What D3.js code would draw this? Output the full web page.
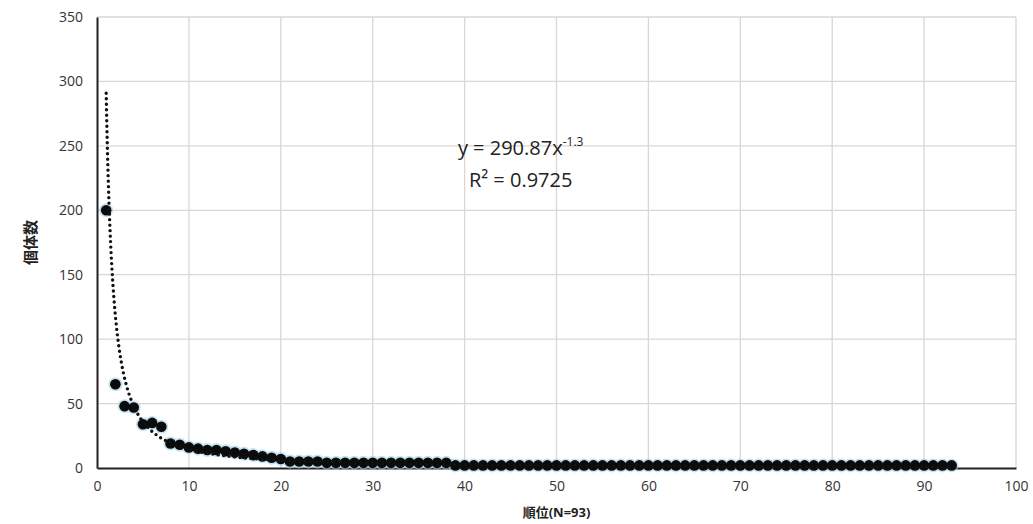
<!DOCTYPE html>
<html>
<head>
<meta charset="utf-8">
<script src="https://cdn.jsdelivr.net/npm/d3@7"></script>
<style>
  body { margin: 0; background: #fff; }
  text { font-family: "Open Sans", "Noto Sans CJK JP", sans-serif; }
</style>
</head>
<body>
<div id="root"></div>
<script>
// rank-abundance data
const ranks = d3.range(1, 94);
const counts = [
  200, 65, 48, 47, 34, 35, 32, 19, 18, 16,
  15, 14, 14, 13, 12, 11, 10, 9, 8, 7,
  5, 5, 5, 5, 4, 4, 4, 4, 4, 4,
  4, 4, 4, 4, 4, 4, 4, 4, 2, 2,
  2, 2, 2, 2, 2, 2, 2, 2, 2, 2,
  2, 2, 2, 2, 2, 2, 2, 2, 2, 2,
  2, 2, 2, 2, 2, 2, 2, 2, 2, 2,
  2, 2, 2, 2, 2, 2, 2, 2, 2, 2,
  2, 2, 2, 2, 2, 2, 2, 2, 2, 2,
  2, 2, 2
];
const xTicks = [0, 10, 20, 30, 40, 50, 60, 70, 80, 90, 100];
const yTicks = [0, 50, 100, 150, 200, 250, 300, 350];
const fitA = 290.87;
const fitB = -1.3;

const width = 1033;
const height = 524;
const padding = { top: 17, right: 17, bottom: 56, left: 97 };

const svg = d3.select('#root').append('svg')
  .attr('width', width)
  .attr('height', height);

const x = d3.scaleLinear().domain([0, 100]).range([padding.left, width - padding.right]);
const y = d3.scaleLinear().domain([0, 350]).range([height - padding.bottom, padding.top]);

// grid
svg.append('g').selectAll('line.vg')
  .data(xTicks.slice(1))
  .enter().append('line')
  .attr('x1', d => x(d)).attr('x2', d => x(d))
  .attr('y1', y(0)).attr('y2', y(350))
  .style('stroke', '#ddd5d2').style('stroke-width', 1.3);
svg.append('g').selectAll('line.hg')
  .data(yTicks.slice(1))
  .enter().append('line')
  .attr('x1', x(0)).attr('x2', x(100))
  .attr('y1', d => y(d)).attr('y2', d => y(d))
  .style('stroke', '#ddd5d2').style('stroke-width', 1.3);

// axes
const xAxis = svg.append('g')
  .attr('transform', `translate(0 ${y(0)})`)
  .call(d3.axisBottom(x).tickValues(xTicks).tickSize(0).tickPadding(13));
const yAxis = svg.append('g')
  .attr('transform', `translate(${x(0)} 0)`)
  .call(d3.axisLeft(y).tickValues(yTicks).tickSize(0).tickPadding(14));
[xAxis, yAxis].forEach(a => {
  a.select('.domain').style('stroke', '#222').style('stroke-width', 2);
  a.selectAll('text').style('font-size', '14px').style('fill', '#333');
});

// points
const pts = ranks.map((r, i) => ({ r, c: counts[i] }));
svg.append('g').selectAll('circle.glow')
  .data(pts)
  .enter().append('circle')
  .attr('cx', d => x(d.r)).attr('cy', d => y(d.c))
  .attr('r', 7)
  .style('fill', '#9fd3ea').style('opacity', 0.6);
svg.append('g').selectAll('circle.pt')
  .data(pts)
  .enter().append('circle')
  .attr('cx', d => x(d.r)).attr('cy', d => y(d.c))
  .attr('r', 5.3)
  .style('fill', '#0b0b0b');

// power trendline
const fit = d3.range(1, 93.01, 0.05).map(v => [v, fitA * Math.pow(v, fitB)]);
svg.append('path')
  .datum(fit)
  .attr('d', d3.line().x(d => x(d[0])).y(d => y(d[1])))
  .style('fill', 'none')
  .style('stroke', '#111')
  .style('stroke-width', 3.4)
  .style('stroke-linecap', 'round')
  .style('stroke-dasharray', '0 5.5');

// equation
const eq = svg.append('text')
  .attr('x', x(46.1)).attr('y', y(243))
  .attr('text-anchor', 'middle')
  .style('font-size', '20px').style('fill', '#222');
eq.append('tspan').text('y = 290.87x');
eq.append('tspan').attr('dy', -9).style('font-size', '12px').text('-1.3');
svg.append('text')
  .attr('x', x(46.1)).attr('y', y(218))
  .attr('text-anchor', 'middle')
  .style('font-size', '20px').style('fill', '#222')
  .text('R² = 0.9725');

// axis titles
svg.append('text')
  .attr('transform', `translate(36 ${(y(0) + y(350)) / 2}) rotate(-90)`)
  .attr('text-anchor', 'middle')
  .style('font-size', '15px').style('font-weight', 'bold').style('fill', '#222')
  .text('個体数');
svg.append('text')
  .attr('x', (x(0) + x(100)) / 2).attr('y', 517)
  .attr('text-anchor', 'middle')
  .style('font-size', '13px').style('font-weight', 'bold').style('fill', '#222')
  .text('順位(N=93)');
</script>
</body>
</html>
